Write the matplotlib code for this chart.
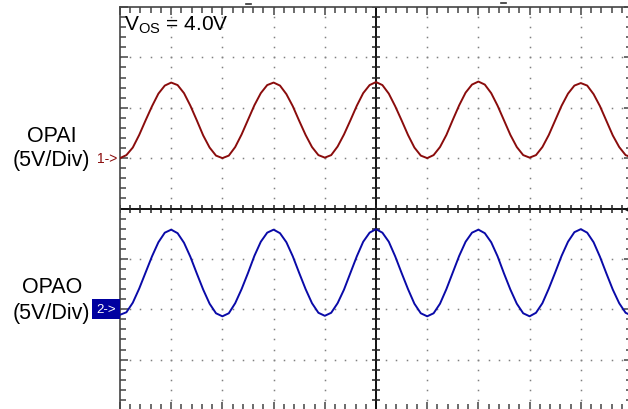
import numpy as np
import matplotlib
matplotlib.use("Agg")
import matplotlib.pyplot as plt
from matplotlib.lines import Line2D

plt.rcParams["font.family"] = ["Liberation Sans", "DejaVu Sans"]
plt.rcParams["mathtext.fontset"] = "custom"
plt.rcParams["mathtext.rm"] = "Liberation Sans"

# time axis in divisions (10 div across), sampled every 1/8 div
t_div = np.arange(0, 10.001, 0.125)

# channel 1 (OPAI) trace, in screen divisions (center = 0)
ch1_div = [
    1.00, 1.06, 1.21, 1.46, 1.75, 2.03, 2.28, 2.44, 2.50, 2.45, 2.29, 2.04, 1.75, 1.45, 1.21, 1.05,
    1.00, 1.05, 1.22, 1.47, 1.76, 2.05, 2.29, 2.45, 2.50, 2.44, 2.27, 2.03, 1.74, 1.46, 1.22, 1.06,
    1.01, 1.06, 1.23, 1.47, 1.75, 2.04, 2.29, 2.45, 2.51, 2.45, 2.28, 2.03, 1.75, 1.46, 1.21, 1.05,
    1.00, 1.06, 1.22, 1.46, 1.76, 2.05, 2.30, 2.46, 2.52, 2.46, 2.29, 2.04, 1.75, 1.46, 1.22, 1.06,
    1.01, 1.06, 1.22, 1.46, 1.75, 2.04, 2.28, 2.44, 2.49, 2.44, 2.27, 2.03, 1.74, 1.45, 1.22, 1.06,
    1.01,
]

# channel 2 (OPAO) trace, in screen divisions
ch2_div = [
    -2.11, -2.06, -1.87, -1.59, -1.27, -0.95, -0.67, -0.48, -0.42, -0.49, -0.68, -0.96, -1.29, -1.61, -1.89, -2.08,
    -2.14, -2.08, -1.88, -1.60, -1.28, -0.94, -0.66, -0.48, -0.42, -0.49, -0.67, -0.95, -1.28, -1.60, -1.88, -2.07,
    -2.13, -2.07, -1.88, -1.61, -1.28, -0.95, -0.66, -0.48, -0.41, -0.48, -0.66, -0.95, -1.28, -1.60, -1.89, -2.08,
    -2.14, -2.08, -1.89, -1.60, -1.27, -0.94, -0.66, -0.48, -0.42, -0.49, -0.67, -0.95, -1.29, -1.61, -1.89, -2.08,
    -2.14, -2.07, -1.88, -1.59, -1.27, -0.94, -0.66, -0.47, -0.41, -0.48, -0.67, -0.96, -1.29, -1.61, -1.88, -2.07,
    -2.13,
]

ch1_ground = 1.0
ch2_ground = -2.0
ch_labels = ["OPAI", "OPAO"]
scale_label = "(5V/Div)"
vos_label = r"V$_{\mathrm{OS}}$ = 4.0V"

RED = "#8a0c0c"
BLUE = "#0a0aa8"
GRID = "#808080"

fig = plt.figure(figsize=(6.28, 4.10), dpi=100)
ax = fig.add_axes([120 / 628, -1 / 410, 512 / 628, 403 / 410])
ax.set_xlim(0, 10)
ax.set_ylim(-4, 4)

# dotted graticule
for gx in range(1, 10):
    if gx == 5:
        continue
    ys = np.arange(-4, 4.001, 0.2)
    ax.plot(np.full_like(ys, gx), ys, ls="none", marker="s", ms=1.1,
            color=GRID, mec="none", zorder=1)
for gy in range(-3, 4):
    if gy == 0:
        continue
    xs = np.arange(0, 10.001, 0.2)
    ax.plot(xs, np.full_like(xs, gy), ls="none", marker="s", ms=1.1,
            color=GRID, mec="none", zorder=1)

# center cross with ticks
ax.axvline(5, color="#111111", lw=1.4, zorder=2)
ax.axhline(0, color="#111111", lw=1.4, zorder=2)
xs = np.arange(0, 10.001, 0.2)
ax.plot(xs, np.zeros_like(xs), ls="none", marker="|", ms=6, mew=1.1,
        color="#222222", zorder=2)
ys = np.arange(-4, 4.001, 0.2)
ax.plot(np.full_like(ys, 5), ys, ls="none", marker="_", ms=6, mew=1.1,
        color="#222222", zorder=2)

# traces
ax.plot(t_div, ch1_div, color=RED, lw=1.4, zorder=3)
ax.plot(t_div, ch2_div, color=BLUE, lw=1.4, zorder=3)

# trigger level marker at right edge
ax.plot([9.93], [0], marker="<", ms=4, color="#111111", clip_on=False, zorder=4)

# border ticks
ax.set_xticks(range(0, 11))
ax.set_yticks(range(-4, 5))
ax.set_xticks(np.arange(0, 10.001, 0.2), minor=True)
ax.set_yticks(np.arange(-4, 4.001, 0.2), minor=True)
ax.tick_params(which="both", direction="in", top=True, right=True,
               labelbottom=False, labelleft=False, color="#444444", width=1.1)
ax.tick_params(which="major", length=6)
ax.tick_params(which="minor", length=4)
for s in ax.spines.values():
    s.set_color("#444444")
    s.set_linewidth(1.2)

# channel labels
fig.text(52 / 628, 1 - 142 / 410, ch_labels[0], fontsize=15.5, ha="center", va="baseline")
fig.text(51 / 628, 1 - 166 / 410, scale_label, fontsize=15.5, ha="center", va="baseline")
fig.text(52 / 628, 1 - 293 / 410, ch_labels[1], fontsize=15.5, ha="center", va="baseline")
fig.text(51 / 628, 1 - 319 / 410, scale_label, fontsize=15.5, ha="center", va="baseline")

# channel ground markers
ax.annotate("1->", xy=(0, ch1_ground), xytext=(-3, 0), textcoords="offset pixels",
            ha="right", va="center", fontsize=10, color=RED,
            annotation_clip=False)
ax.annotate("2->", xy=(0, ch2_ground), xytext=(-4, 0), textcoords="offset pixels",
            ha="right", va="center", fontsize=9.5, color="white",
            annotation_clip=False,
            bbox=dict(boxstyle="square,pad=0.3", fc="#0000a0", ec="none"))

# offset voltage annotation
fig.text(124 / 628, 1 - 30 / 410, vos_label, fontsize=15, ha="left", va="baseline")

# small marks above the screen
fig.add_artist(Line2D([246 / 628, 251 / 628], [1 - 5 / 410] * 2, color="#333333", lw=1.2))
fig.add_artist(Line2D([501 / 628, 506 / 628], [1 - 4 / 410] * 2, color="#333333", lw=1.2))

fig.savefig("out.png", dpi=100, facecolor="white")
